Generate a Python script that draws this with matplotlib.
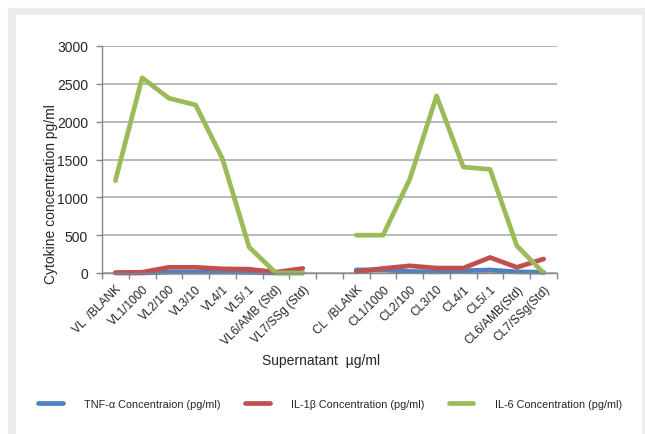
import matplotlib.pyplot as plt
import matplotlib.patches as patches
import numpy as np

plt.rcParams['font.family'] = ['Liberation Sans', 'DejaVu Sans']

# category labels (blank slot between the two groups)
labels_vl = ['VL  /BLANK', 'VL1/1000', 'VL2/100', 'VL3/10', 'VL4/1', 'VL5/.1',
             'VL6/AMB (Std)', 'VL7/SSg (Std)']
labels_cl = ['CL  /BLANK', 'CL1/1000', 'CL2/100', 'CL3/10', 'CL4/1', 'CL5/.1',
             'CL6/AMB(Std)', 'CL7/SSg(Std)']

# values (pg/ml)
tnf_vl = [0, 0, 10, 10, 10, 8, 0, 0]
tnf_cl = [40, 45, 20, 15, 30, 40, 15, 10]
il1b_vl = [5, 10, 75, 75, 55, 50, 10, 60]
il1b_cl = [15, 60, 95, 65, 65, 205, 75, 185]
il6_vl = [1220, 2580, 2310, 2220, 1510, 340, 0, 0]
il6_cl = [500, 500, 1240, 2340, 1400, 1370, 360, 0]

series_names = ['TNF-\u03b1 Concentraion (pg/ml)', 'IL-1\u03b2 Concentration (pg/ml)',
                'IL-6 Concentration (pg/ml)']
series_colors = ['#4F81BD', '#C0504D', '#9BBB59']

labels = labels_vl + [''] + labels_cl
x = np.arange(len(labels))


def join(a, b):
    return np.array(a + [np.nan] + b, dtype=float)


series = [join(tnf_vl, tnf_cl), join(il1b_vl, il1b_cl), join(il6_vl, il6_cl)]

W, H = 645, 435
fig = plt.figure(figsize=(W / 100, H / 100), dpi=100)

# gray frame with white panel
fig.patches.append(patches.Rectangle((8 / W, 0), 1 - 8 / W, 1 - 9 / H,
                                     transform=fig.transFigure, color='#ebecea', zorder=-2))
fig.patches.append(patches.Rectangle((16 / W, 0), (641 - 16) / W, 1 - 16 / H,
                                     transform=fig.transFigure, color='white', zorder=-1))

ax = fig.add_axes([102 / W, 1 - 274 / H, 455 / W, 227 / H])
ax.patch.set_alpha(0)

for y, name, c in zip(series, series_names, series_colors):
    ax.plot(x, y, color=c, lw=3.4, label=name, solid_capstyle='round',
            solid_joinstyle='round', clip_on=False)

ax.set_xlim(-0.5, len(labels) - 0.5)
ax.set_ylim(0, 3000)
ax.set_yticks(np.arange(0, 3001, 500))
ax.yaxis.grid(True, color='#a6a6a6', lw=1.1)
ax.set_axisbelow(True)

ax.set_xticks(x)
ax.set_xticklabels(labels, rotation=45, ha='right', rotation_mode='anchor',
                   fontsize=8.6, color='#262626')
ax.set_xticks(np.arange(-0.5, len(labels)), minor=True)
ax.tick_params(axis='x', which='major', length=0, pad=7)
ax.tick_params(axis='x', which='minor', length=4, color='#868686', width=1)
ax.tick_params(axis='y', length=4, color='#868686', width=1, pad=6,
               labelsize=10, labelcolor='#262626')

for s in ['top', 'right']:
    ax.spines[s].set_visible(False)
for s in ['left', 'bottom']:
    ax.spines[s].set_color('#868686')
    ax.spines[s].set_linewidth(1)

fig.text(51 / W, 1 - 194 / H, 'Cytokine concentration pg/ml', rotation=90,
         ha='center', va='center', fontsize=10, color='#262626')
fig.text(321 / W, 1 - 361 / H, 'Supernatant  \u00b5g/ml', ha='center', va='center',
         fontsize=10, color='#262626')

handles, names = ax.get_legend_handles_labels()
fig.legend(handles, names, loc='center', bbox_to_anchor=(330 / W, 1 - 405 / H),
           ncol=3, frameon=False, fontsize=7.8, handlelength=2.3, handletextpad=2.0,
           columnspacing=2.2, labelcolor='#262626')

fig.savefig('out.png', dpi=100)
